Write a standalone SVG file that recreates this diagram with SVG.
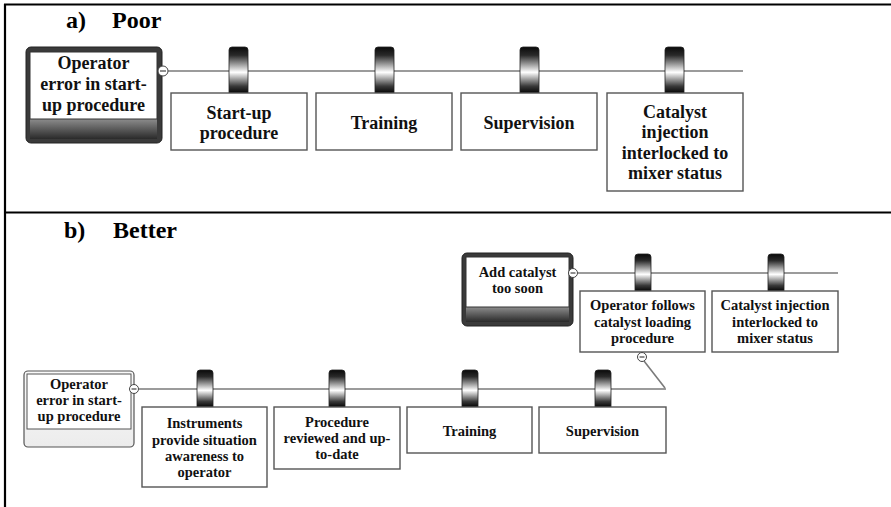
<svg xmlns="http://www.w3.org/2000/svg" width="891" height="507" viewBox="0 0 891 507" font-family="'Liberation Serif', 'DejaVu Serif', serif">
  <defs>
    <linearGradient id="barrierGrad" x1="0" y1="0" x2="0" y2="1">
      <stop offset="0" stop-color="#0a0a0a"/>
      <stop offset="0.18" stop-color="#2a2a2a"/>
      <stop offset="0.55" stop-color="#ffffff"/>
      <stop offset="0.85" stop-color="#3a3a3a"/>
      <stop offset="1" stop-color="#050505"/>
    </linearGradient>
    <linearGradient id="hazardBase" x1="0" y1="0" x2="0" y2="1">
      <stop offset="0" stop-color="#8c8c8c"/>
      <stop offset="1" stop-color="#2a2a2a"/>
    </linearGradient>
    <linearGradient id="hazardLight" x1="0" y1="0" x2="0" y2="1">
      <stop offset="0" stop-color="#fafafa"/>
      <stop offset="1" stop-color="#ececec"/>
    </linearGradient>
    <!-- barrier tab, origin at its top-left -->
    <path id="tabA" d="M0,46 V3 Q0,0 3,0 H16 Q19,0 19,3 V46 Z"/>
    <path id="tabB" d="M0,37 V3 Q0,0 3,0 H13 Q16,0 16,3 V37 Z"/>
  </defs>
  <style>
    .frame { stroke: #000; stroke-width: 2.2; fill: none; }
    .path { stroke: #7a7a7a; stroke-width: 1.6; fill: none; }
    .box { fill: #fff; stroke: #555; stroke-width: 1.4; }
    .tab { fill: url(#barrierGrad); stroke: #222; stroke-width: 0.8; }
    .minus { fill: #fff; stroke: #444; stroke-width: 1; }
    .bar { stroke: #444; stroke-width: 1.2; }
    text { font-family: 'Liberation Serif', 'DejaVu Serif', serif; font-weight: bold; fill: #111; text-anchor: middle; }
    .title { font-size: 24px; text-anchor: start; fill: #000; }
    .lg { font-size: 18px; }
    .sm { font-size: 14.5px; }
  </style>

  <rect width="891" height="507" fill="#fff"/>

  <!-- outer frame and section divider -->
  <g id="frame">
    <line class="frame" x1="4" y1="4.5" x2="891" y2="4.5"/>
    <line class="frame" x1="5" y1="4" x2="5" y2="507"/>
    <line class="frame" x1="4" y1="212.5" x2="891" y2="212.5"/>
  </g>

  <text class="title" x="66" y="28">a)</text>
  <text class="title" x="112" y="28">Poor</text>
  <text class="title" x="64" y="238">b)</text>
  <text class="title" x="113" y="238">Better</text>

  <!-- connectors -->
  <g id="connectors">
    <line class="path" x1="168" y1="71" x2="743" y2="71"/>
    <line class="path" x1="139" y1="389" x2="666" y2="389"/>
    <line class="path" x1="578" y1="273" x2="838" y2="273"/>
    <line class="path" x1="644" y1="361" x2="665" y2="388" stroke-width="1"/>
  </g>

  <!-- a) hazard -->
  <g id="a-hazard">
    <rect x="26" y="47" width="136" height="96" rx="5" fill="#3a3a3a" stroke="#222" stroke-width="1"/>
    <rect x="30" y="119" width="127" height="20" fill="url(#hazardBase)"/>
    <rect x="30" y="52" width="127" height="67" fill="#fff" stroke="#333" stroke-width="1"/>
    <text class="lg" x="93.5" y="69">Operator</text>
    <text class="lg" x="93.5" y="90">error in start-</text>
    <text class="lg" x="93.5" y="111">up procedure</text>
    <circle class="minus" cx="163" cy="71" r="5"/>
    <line class="bar" x1="160" y1="71" x2="166" y2="71"/>
  </g>

  <!-- a) barriers -->
  <g id="a-startup">
    <use href="#tabA" class="tab" x="229" y="47"/>
    <rect class="box" x="171" y="93" width="136" height="57"/>
    <text class="lg" x="239" y="119">Start-up</text>
    <text class="lg" x="239" y="139">procedure</text>
  </g>
  <g id="a-training">
    <use href="#tabA" class="tab" x="375" y="47"/>
    <rect class="box" x="316" y="93" width="136" height="57"/>
    <text class="lg" x="384" y="129">Training</text>
  </g>
  <g id="a-supervision">
    <use href="#tabA" class="tab" x="520" y="47"/>
    <rect class="box" x="461" y="93" width="136" height="57"/>
    <text class="lg" x="529" y="129">Supervision</text>
  </g>
  <g id="a-interlock">
    <use href="#tabA" class="tab" x="665" y="47"/>
    <rect class="box" x="607" y="93" width="136" height="98"/>
    <text class="lg" x="675" y="118">Catalyst</text>
    <text class="lg" x="675" y="138">injection</text>
    <text class="lg" x="675" y="159">interlocked to</text>
    <text class="lg" x="675" y="179">mixer status</text>
  </g>

  <!-- b) upper hazard: add catalyst too soon -->
  <g id="b-hazard-catalyst">
    <rect x="462" y="253" width="111" height="73" rx="5" fill="#3a3a3a" stroke="#222" stroke-width="1"/>
    <rect x="466" y="307" width="103" height="15" fill="url(#hazardBase)"/>
    <rect x="466" y="257" width="103" height="50" fill="#fff" stroke="#333" stroke-width="1"/>
    <text class="sm" x="517.5" y="277">Add catalyst</text>
    <text class="sm" x="517.5" y="293">too soon</text>
    <circle class="minus" cx="573" cy="273" r="4.5"/>
    <line class="bar" x1="570.5" y1="273" x2="575.5" y2="273"/>
  </g>

  <g id="b-follows-procedure">
    <use href="#tabB" class="tab" x="635" y="254"/>
    <rect class="box" x="580" y="291" width="125" height="61"/>
    <text class="sm" x="642.5" y="310">Operator follows</text>
    <text class="sm" x="642.5" y="327">catalyst loading</text>
    <text class="sm" x="642.5" y="343">procedure</text>
    <circle class="minus" cx="642" cy="357" r="4.5"/>
    <line class="bar" x1="639.5" y1="357" x2="644.5" y2="357"/>
  </g>

  <g id="b-interlock">
    <use href="#tabB" class="tab" x="768" y="254"/>
    <rect class="box" x="712" y="291" width="126" height="61"/>
    <text class="sm" x="775" y="310">Catalyst injection</text>
    <text class="sm" x="775" y="327">interlocked to</text>
    <text class="sm" x="775" y="343">mixer status</text>
  </g>

  <!-- b) lower hazard: operator error -->
  <g id="b-hazard-operator">
    <rect x="24" y="371" width="110" height="76" rx="4" fill="url(#hazardLight)" stroke="#555" stroke-width="1.2"/>
    <rect x="27" y="374" width="104" height="55" fill="#fff" stroke="#555" stroke-width="1"/>
    <text class="sm" x="79" y="389">Operator</text>
    <text class="sm" x="79" y="405">error in start-</text>
    <text class="sm" x="79" y="421">up procedure</text>
    <circle class="minus" cx="134" cy="389" r="4.5"/>
    <line class="bar" x1="131.5" y1="389" x2="136.5" y2="389"/>
  </g>

  <g id="b-instruments">
    <use href="#tabB" class="tab" x="197" y="370"/>
    <rect class="box" x="142" y="407" width="125" height="80"/>
    <text class="sm" x="204.5" y="428">Instruments</text>
    <text class="sm" x="204.5" y="445">provide situation</text>
    <text class="sm" x="204.5" y="461">awareness to</text>
    <text class="sm" x="204.5" y="477">operator</text>
  </g>
  <g id="b-procedure">
    <use href="#tabB" class="tab" x="329" y="370"/>
    <rect class="box" x="274" y="407" width="126" height="62"/>
    <text class="sm" x="337" y="427">Procedure</text>
    <text class="sm" x="337" y="443">reviewed and up-</text>
    <text class="sm" x="337" y="459">to-date</text>
  </g>
  <g id="b-training">
    <use href="#tabB" class="tab" x="462" y="370"/>
    <rect class="box" x="407" y="407" width="125" height="46"/>
    <text class="sm" x="469.5" y="436">Training</text>
  </g>
  <g id="b-supervision">
    <use href="#tabB" class="tab" x="595" y="370"/>
    <rect class="box" x="539" y="407" width="127" height="46"/>
    <text class="sm" x="602.5" y="436">Supervision</text>
  </g>
</svg>
